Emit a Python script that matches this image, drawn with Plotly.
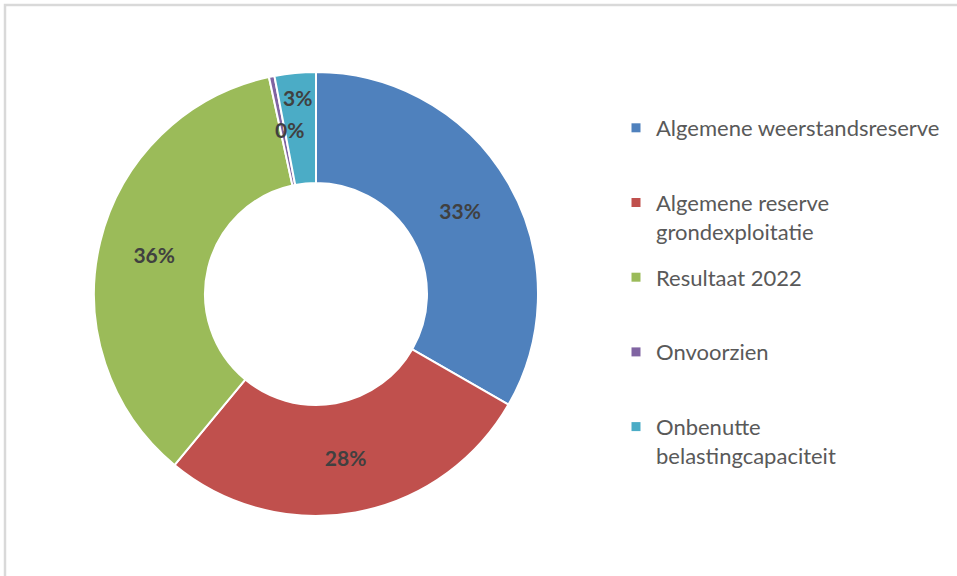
import math
import plotly.graph_objects as go

# ---- data ----
categories = [
    "Algemene weerstandsreserve",
    "Algemene reserve grondexploitatie",
    "Resultaat 2022",
    "Onvoorzien",
    "Onbenutte belastingcapaciteit",
]
values = [33.3, 27.7, 35.6, 0.4, 3.0]
colors = ["#4F81BD", "#C0504D", "#9BBB59", "#8064A2", "#4BACC6"]
legend_labels = [
    "Algemene weerstandsreserve<br> ",
    "Algemene reserve<br>grondexploitatie",
    "Resultaat 2022<br> ",
    "Onvoorzien<br> ",
    "Onbenutte<br>belastingcapaciteit",
]

W, H = 957, 576
HOLE = 0.5
dom_x = [94 / W, 538 / W]
dom_y = [1 - 516 / H, 1 - 72 / H]

label_font = dict(family="Lato, 'Open Sans', sans-serif", size=21, color="#404040")

fig = go.Figure()

# textpositions: tiny slices get annotation labels instead
textpos = ["inside" if v >= 10 else "none" for v in values]

fig.add_trace(go.Pie(
    labels=categories,
    values=values,
    hole=HOLE,
    sort=False,
    direction="clockwise",
    rotation=0,
    marker=dict(colors=colors, line=dict(color="white", width=2)),
    texttemplate="<b>%{percent:.0%}</b>",
    textposition=textpos,
    insidetextorientation="horizontal",
    textfont=label_font,
    domain=dict(x=dom_x, y=dom_y),
    showlegend=False,
    hoverinfo="label+percent",
))

# legend entries (one group per category so spacing can be set)
for i, (lab, col) in enumerate(zip(legend_labels, colors)):
    fig.add_trace(go.Scatter(
        x=[None], y=[None], mode="markers",
        marker=dict(symbol="square", size=9, color=col),
        name=lab, legendgroup=f"g{i}", showlegend=True, hoverinfo="skip",
    ))

# labels for the small slices, positioned from the data
total = sum(values)
cx_px = (dom_x[0] + dom_x[1]) / 2 * W
cy_px = (1 - (dom_y[0] + dom_y[1]) / 2) * H
R = min((dom_x[1] - dom_x[0]) * W, (dom_y[1] - dom_y[0]) * H) / 2
cum = 0.0
annotations = []
for i, v in enumerate(values):
    mid = (cum + v / 2) / total
    cum += v
    if v >= 10:
        continue
    theta = mid * 2 * math.pi
    if v < 1:
        r = R * (1 + HOLE) / 2
        theta += math.radians(2.5)
    else:
        r = R * 0.89
    px = cx_px + r * math.sin(theta)
    py = cy_px - r * math.cos(theta)
    annotations.append(dict(
        x=px / W, y=1 - py / H, xref="paper", yref="paper",
        text=f"<b>{round(v / total * 100)}%</b>", showarrow=False,
        font=label_font, xanchor="center", yanchor="middle",
    ))

fig.update_layout(
    width=W, height=H,
    margin=dict(l=0, r=0, t=0, b=0),
    paper_bgcolor="white", plot_bgcolor="white",
    xaxis=dict(visible=False), yaxis=dict(visible=False),
    annotations=annotations,
    legend=dict(
        x=616 / W, y=1 - 107 / H, xanchor="left", yanchor="top",
        font=dict(family="Lato, 'Open Sans', sans-serif", size=22, color="#595959"),
        valign="top", tracegroupgap=14.5, itemclick=False,
        bgcolor="rgba(0,0,0,0)",
    ),
    shapes=[dict(
        type="rect", xref="paper", yref="paper",
        x0=5 / W, x1=1.05, y0=-0.05, y1=1 - 5 / H,
        line=dict(color="#D9D9D9", width=2.5), fillcolor="rgba(0,0,0,0)",
    )],
)

fig.write_html("out.html", config={"displayModeBar": False},
               post_script="document.body.style.margin='0';")
